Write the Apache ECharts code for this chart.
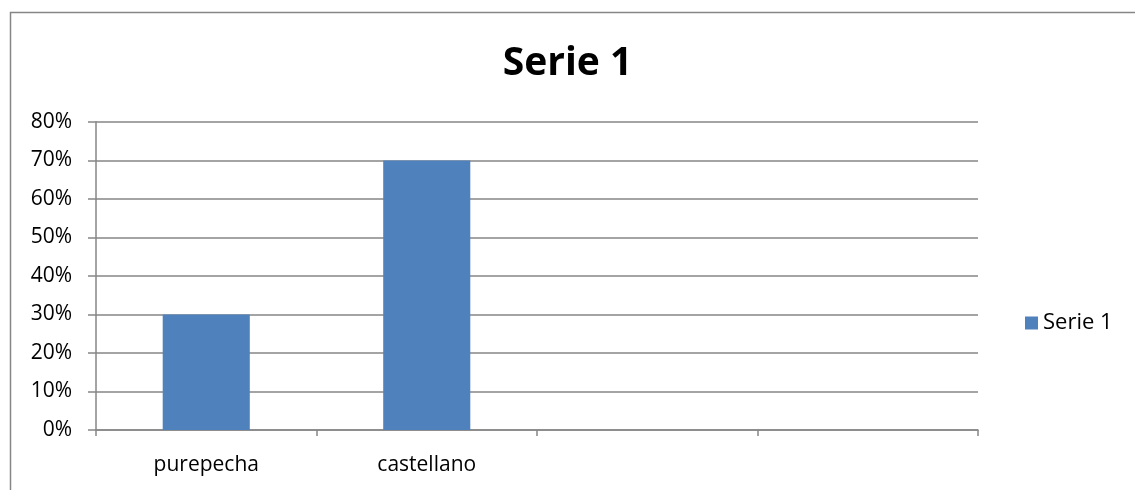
<!DOCTYPE html>
<html>
<head>
<meta charset="utf-8">
<script src="https://cdn.jsdelivr.net/npm/echarts@6/dist/echarts.min.js"></script>
<style>
  html, body { margin: 0; padding: 0; background: #fff; }
  #chart { width: 1135px; height: 490px; }
</style>
</head>
<body>
<div id="chart"></div>
<script>
// datos
var categorias = ['purepecha', 'castellano', '', ''];
var serie1 = [0.30, 0.70, null, null];
var nombreSerie = 'Serie 1';

var dom = document.getElementById('chart');
var myChart = echarts.init(dom);
var gris = '#868686';
var fuente = '"Open Sans", "Noto Sans", sans-serif';

var option = {
    animation: false,
    title: {
        text: 'Serie 1',
        left: 'center',
        top: 39,
        textStyle: {
            color: '#000',
            fontSize: 39,
            fontWeight: 'bold',
            fontFamily: fuente
        }
    },
    legend: {
        data: [nombreSerie],
        left: 1020,
        top: 307,
        itemWidth: 13,
        itemHeight: 13,
        itemGap: 5,
        icon: 'rect',
        textStyle: {
            color: '#000',
            fontSize: 22,
            fontFamily: fuente
        }
    },
    grid: {
        left: 96,
        top: 122,
        width: 882,
        height: 308,
        containLabel: false
    },
    xAxis: {
        type: 'category',
        data: categorias,
        axisLine: { lineStyle: { color: gris, width: 1.5 } },
        axisTick: { show: true, length: 6, lineStyle: { color: gris, width: 1.5 } },
        axisLabel: {
            color: '#000',
            fontSize: 21,
            fontFamily: fuente,
            margin: 25
        }
    },
    yAxis: {
        type: 'value',
        min: 0,
        max: 0.8,
        interval: 0.1,
        axisLine: { show: true, lineStyle: { color: gris, width: 1.5 } },
        axisTick: { show: true, length: 8, lineStyle: { color: gris, width: 1.5 } },
        splitLine: { lineStyle: { color: gris, width: 1.5 } },
        axisLabel: {
            color: '#000',
            fontSize: 21,
            fontFamily: fuente,
            margin: 24,
            formatter: function (v) { return Math.round(v * 100) + '%'; }
        }
    },
    series: [{
        name: nombreSerie,
        type: 'bar',
        data: serie1,
        barWidth: '39.5%',
        itemStyle: { color: '#4F81BD' }
    }],
    graphic: [{
        type: 'rect',
        left: 8,
        top: 10,
        shape: { width: 1140, height: 500 },
        style: { fill: 'none', stroke: gris, lineWidth: 1.5 },
        silent: true
    }]
};
myChart.setOption(option, true);
</script>
</body>
</html>
